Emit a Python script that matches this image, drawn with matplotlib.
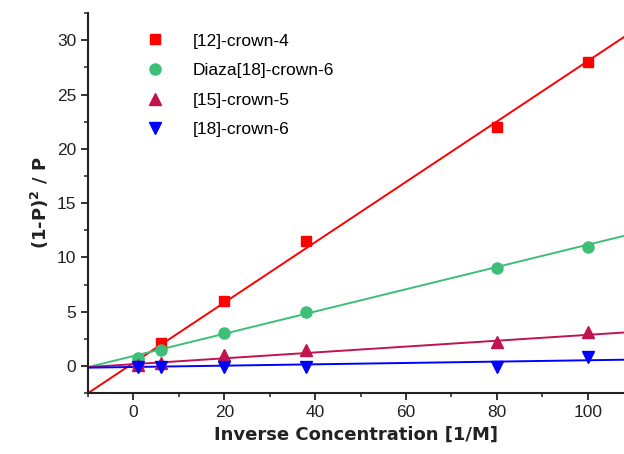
import numpy as np
import matplotlib
matplotlib.use("Agg")
import matplotlib.pyplot as plt
from matplotlib.ticker import MultipleLocator

x = [1, 6, 20, 38, 80, 100]
series = ["[12]-crown-4", "Diaza[18]-crown-6", "[15]-crown-5", "[18]-crown-6"]
y_12c4 = [0.2, 2.1, 6.0, 11.5, 22.0, 28.0]
y_diaza = [0.7, 1.5, 3.0, 5.0, 9.0, 11.0]
y_15c5 = [0.1, 0.3, 1.0, 1.5, 2.2, 3.1]
y_18c6 = [-0.1, -0.1, -0.1, -0.1, -0.1, 0.8]
fit_slope = [0.278, 0.1025, 0.027, 0.0062]
fit_intercept = [0.28, 0.92, 0.17, -0.09]

colors = ["#ff0000", "#3dbf78", "#c0134f", "#0000ff"]
markers = ["s", "o", "^", "v"]
msizes = [7.5, 8, 9, 9]

fig = plt.figure(figsize=(6.24, 4.54), dpi=100)
ax = fig.add_axes([0.141, 0.134, 0.859, 0.837])

xfit = np.array([-10, 108])
for ys, name, c, m, ms, k, b in zip([y_12c4, y_diaza, y_15c5, y_18c6], series, colors,
                                     markers, msizes, fit_slope, fit_intercept):
    ax.plot(xfit, k * xfit + b, color=c, lw=1.4, zorder=2)
    ax.plot(x, ys, linestyle="none", marker=m, ms=ms, color=c, label=name, zorder=3)

ax.set_xlim(-10, 108)
ax.set_ylim(-2.5, 32.5)
ax.xaxis.set_major_locator(MultipleLocator(20))
ax.xaxis.set_minor_locator(MultipleLocator(10))
ax.yaxis.set_major_locator(MultipleLocator(5))
ax.yaxis.set_minor_locator(MultipleLocator(2.5))
for s in ["top", "right"]:
    ax.spines[s].set_visible(False)
for s in ["left", "bottom"]:
    ax.spines[s].set_linewidth(1.5)
    ax.spines[s].set_color("#222222")
ax.tick_params(which="major", direction="out", length=5, width=1.3, labelsize=12.5,
               labelfontfamily="Liberation Sans", colors="#222222")
ax.tick_params(which="minor", direction="out", length=3, width=1.1, colors="#222222")

ax.set_xlabel("Inverse Concentration [1/M]", fontsize=13, fontweight="bold", color="#222222")
ax.set_ylabel("(1-P)$^\\mathbf{2}$ / P", fontsize=13, fontweight="bold", color="#222222")

leg = ax.legend(loc="upper left", bbox_to_anchor=(0.072, 0.988), frameon=False,
                prop={"family": "Liberation Sans", "size": 12.5}, handletextpad=1.4,
                labelspacing=0.83, handlelength=1.5)

fig.savefig("out.png", dpi=100)
